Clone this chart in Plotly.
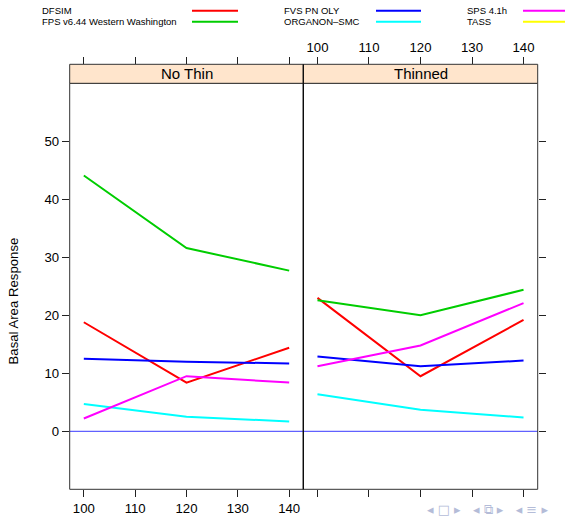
import plotly.graph_objects as go

# ---------------- data ----------------
panels = ["No Thin", "Thinned"]
ages = [100, 120, 140]
models = ["DFSIM", "FPS v6.44 Western Washington", "FVS PN OLY",
          "ORGANON\u2013SMC", "SPS 4.1h", "TASS"]
colors = ["#ff0000", "#00cd00", "#0000ff", "#00ffff", "#ff00ff", "#ffff00"]

# Basal area response, No Thin panel
nothin_dfsim = [18.8, 8.4, 14.4]
nothin_fps = [44.1, 31.6, 27.7]
nothin_fvs = [12.5, 12.0, 11.7]
nothin_organon = [4.7, 2.5, 1.7]
nothin_sps = [2.2, 9.5, 8.4]
nothin_tass = [None, None, None]

# Basal area response, Thinned panel
thin_dfsim = [23.0, 9.5, 19.2]
thin_fps = [22.6, 20.0, 24.4]
thin_fvs = [12.9, 11.2, 12.2]
thin_organon = [6.4, 3.7, 2.4]
thin_sps = [11.2, 14.8, 22.1]
thin_tass = [None, None, None]

y_ticks = [0, 10, 20, 30, 40, 50]
x_ticks = [100, 110, 120, 130, 140]

series = {
    "No Thin": [nothin_dfsim, nothin_fps, nothin_fvs, nothin_organon, nothin_sps, nothin_tass],
    "Thinned": [thin_dfsim, thin_fps, thin_fvs, thin_organon, thin_sps, thin_tass],
}

# ---------------- layout geometry (pixels) ----------------
W, H = 565, 516
def px(x): return x / W
def py(y): return 1 - y / H

L0, MID, R0 = 69.7, 303.3, 537.7
TOP, BOT = 83.3, 489.3
STRIP_TOP = 64.3
XR = [97.25, 142.75]
YR = [-10, 60]
FONT = "Liberation Sans, Arial, sans-serif"
TICKC = "#222222"

fig = go.Figure()

for pi, pname in enumerate(panels):
    xa = "x" if pi == 0 else "x2"
    ya = "y" if pi == 0 else "y2"
    for mi, m in enumerate(models):
        fig.add_trace(go.Scatter(
            x=ages, y=series[pname][mi], mode="lines", xaxis=xa, yaxis=ya,
            line=dict(color=colors[mi], width=2), showlegend=False, name=m,
            hoverinfo="skip"))

common_x = dict(range=XR, showgrid=False, zeroline=False, showline=False,
                tickvals=x_ticks, ticks="outside", ticklen=7, tickcolor=TICKC,
                tickfont=dict(family=FONT, size=13.2, color="#000000"))
common_y = dict(range=YR, showgrid=False, zeroline=False, showline=False,
                tickvals=y_ticks, ticks="outside", ticklen=7, tickcolor=TICKC,
                tickfont=dict(family=FONT, size=13.2, color="#000000"),
                domain=[py(BOT), py(TOP)])

fig.update_layout(
    width=W, height=H, margin=dict(l=0, r=0, t=0, b=0),
    paper_bgcolor="white", plot_bgcolor="white", showlegend=False,
    # left panel
    xaxis=dict(common_x, domain=[px(L0), px(MID)], anchor="y", side="bottom"),
    yaxis=dict(common_y, anchor="x", side="left"),
    # right panel
    xaxis2=dict(common_x, domain=[px(MID), px(R0)], anchor="y2", side="bottom",
                showticklabels=False),
    yaxis2=dict(common_y, anchor="x2", side="right", showticklabels=False),
    # top ticks (above strips)
    xaxis3=dict(common_x, domain=[px(L0), px(MID)], overlaying="x", anchor="free",
                position=py(STRIP_TOP), side="top", showticklabels=False),
    xaxis4=dict(common_x, domain=[px(MID), px(R0)], overlaying="x2", anchor="free",
                position=py(STRIP_TOP), side="top", showticklabels=True),
)

# invisible traces to activate top axes
fig.add_trace(go.Scatter(x=[None], y=[None], xaxis="x3", yaxis="y", showlegend=False))
fig.add_trace(go.Scatter(x=[None], y=[None], xaxis="x4", yaxis="y2", showlegend=False))

shapes = []
# zero reference line
shapes.append(dict(type="line", xref="paper", yref="y", x0=px(L0), x1=px(R0),
                   y0=0, y1=0, line=dict(color="#3a3aff", width=1)))
# panel borders and strips
for (a, b), pname in zip([(L0, MID), (MID, R0)], panels):
    shapes.append(dict(type="rect", xref="paper", yref="paper",
                       x0=px(a), x1=px(b), y0=py(BOT), y1=py(TOP),
                       line=dict(color="#333333", width=1)))
    shapes.append(dict(type="rect", xref="paper", yref="paper",
                       x0=px(a), x1=px(b), y0=py(TOP), y1=py(STRIP_TOP),
                       fillcolor="#ffe5cc", line=dict(color="#333333", width=1)))
shapes.append(dict(type="line", xref="paper", yref="paper", x0=px(MID), x1=px(MID),
                   y0=py(BOT), y1=py(STRIP_TOP), line=dict(color="#000000", width=1)))

annotations = []
for (a, b), pname in zip([(L0, MID), (MID, R0)], panels):
    annotations.append(dict(text=pname, x=px((a + b) / 2), y=py((TOP + STRIP_TOP) / 2),
                            xref="paper", yref="paper", showarrow=False,
                            xanchor="center", yanchor="middle",
                            font=dict(family=FONT, size=15, color="#000000")))

# y-axis title
annotations.append(dict(text="Basal Area Response", x=px(12.5), y=py(301),
                        xref="paper", yref="paper", showarrow=False, textangle=-90,
                        xanchor="center", yanchor="middle",
                        font=dict(family=FONT, size=13.2, color="#000000")))

# legend (lattice-style key: text then line)
text_x = [39.6, 282, 465]
line_x = [(192, 238), (376, 421), (523, 570)]
rows_y = [10.7, 21.7]
for mi, m in enumerate(models):
    col, row = mi // 2, mi % 2
    annotations.append(dict(text=m, x=px(text_x[col]), y=py(rows_y[row]),
                            xref="paper", yref="paper", showarrow=False,
                            xanchor="left", yanchor="middle",
                            font=dict(family=FONT, size=9.5, color="#000000")))
    shapes.append(dict(type="line", xref="paper", yref="paper",
                       x0=px(line_x[col][0]), x1=px(line_x[col][1]),
                       y0=py(rows_y[row]), y1=py(rows_y[row]),
                       line=dict(color=colors[mi], width=2)))

# beamer navigation symbols in the corner
annotations.append(dict(text="\u25c2 \u25a1 \u25b8   \u25c2 \u29c9 \u25b8   \u25c2 \u2261 \u25b8",
                        x=px(425), y=py(509), xref="paper", yref="paper",
                        showarrow=False, xanchor="left", yanchor="middle",
                        font=dict(family="DejaVu Sans", size=13, color="#b4bcd8")))

fig.update_layout(shapes=shapes, annotations=annotations)

fig.write_html("out.html")
